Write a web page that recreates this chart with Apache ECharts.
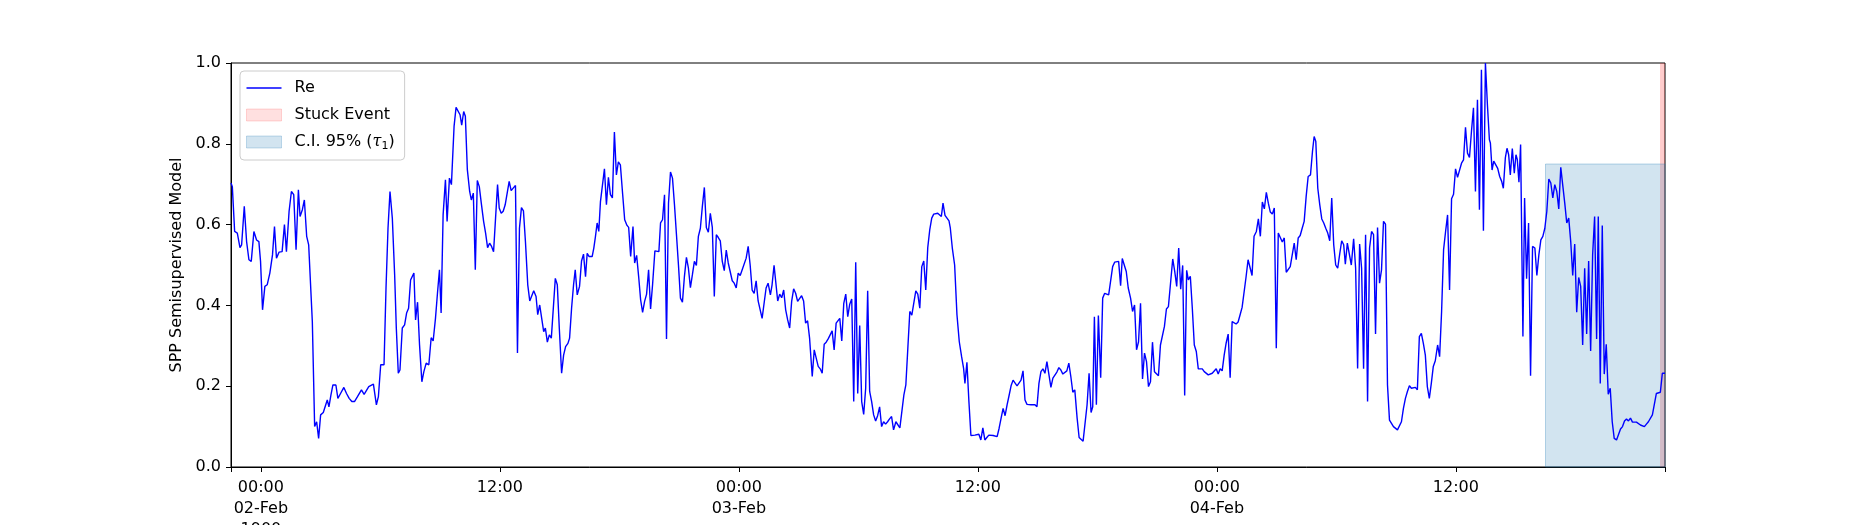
<!DOCTYPE html>
<html>
<head>
<meta charset="utf-8">
<script src="https://cdn.jsdelivr.net/npm/echarts@6.0.0/dist/echarts.min.js"></script>
<style>
html, body { margin: 0; padding: 0; background: #fff; }
#chart { width: 1850px; height: 525px; }
</style>
</head>
<body>
<div id="chart"></div>
<script>
// minutes from 02-Feb 00:00 in chunks of ~9 h
var t0 = [-90,-86,-79,-71,-63,-58,-50,-43,-36,-29,-21,-13,-6,-1,5,12,19,27,35,41,47,55,64,71,77,85,92,99,106,113,118,125,131,138,144,150,155,162,168,174,180,188,194,200,205,211,217,226,232,240,250,258,266,274,282,291,297,303,311,317,325,331,339,348,354,361,371,377,383,389,396,403,408,414,419,426,433,439,445];
var v0 = [0.703,0.694,0.583,0.579,0.543,0.55,0.645,0.558,0.513,0.509,0.583,0.562,0.558,0.509,0.389,0.447,0.451,0.48,0.525,0.595,0.517,0.532,0.533,0.6,0.533,0.633,0.682,0.674,0.538,0.686,0.62,0.637,0.661,0.571,0.55,0.55,0.36,0.10,0.112,0.071,0.129,0.135,0.137,0.166,0.149,0.178,0.203,0.203,0.17,0.182,0.197,0.182,0.17,0.162,0.162,0.174,0.17,0.191,0.18,0.182,0.199,0.195,0.205,0.154,0.174,0.253,0.253,0.443,0.591,0.682,0.616,0.476,0.344,0.232,0.24,0.344,0.352,0.381,0.393];

var t1 = [451,456,461,466,472,478,485,491,498,506,513,519,526,532,538,543,549,556,561,568,574,582,588,594,600,605,611,616,622,629,634,640,646,652,658,664,671,677,683,689,695,701,707,713,718,724,730,736,742,748,754,760,767,773,779,785,791,797,804,810,816,822,829,834,840,846,852,857,863,869,875,881,887,893,899,906,912,918,925,930,936,942,947,953,960,966,972,978,983,989];
var v1 = [0.463,0.467,0.48,0.364,0.408,0.302,0.211,0.236,0.257,0.253,0.32,0.312,0.368,0.43,0.488,0.381,0.624,0.711,0.608,0.715,0.699,0.843,0.89,0.888,0.872,0.846,0.88,0.868,0.736,0.682,0.661,0.678,0.488,0.709,0.694,0.653,0.608,0.579,0.543,0.554,0.546,0.533,0.616,0.699,0.641,0.628,0.633,0.649,0.678,0.707,0.684,0.682,0.697,0.282,0.591,0.642,0.634,0.558,0.451,0.411,0.414,0.436,0.422,0.377,0.401,0.368,0.335,0.344,0.309,0.327,0.319,0.393,0.467,0.451,0.344,0.232,0.277,0.298,0.306,0.319,0.393,0.451,0.488,0.426,0.447,0.51,0.527,0.471,0.529,0.521];

var t2 = [993,998,1003,1008,1013,1018,1023,1029,1035,1041,1047,1053,1059,1065,1071,1077,1083,1090,1096,1103,1108,1114,1121,1126,1132,1138,1144,1150,1156,1162,1168,1174,1180,1187,1193,1199,1204,1210,1216,1222,1228,1234,1240,1246,1252,1258,1264,1270,1276,1282,1288,1294,1300,1306,1312,1318,1324,1330,1336,1342,1348,1354,1360,1366,1372,1378,1384,1390,1396,1402,1408,1414,1420,1426,1432,1438,1444,1450,1456,1462,1468,1474,1480,1486,1492,1498,1504,1510,1516,1522,1528];
var v2 = [0.517,0.521,0.542,0.571,0.604,0.583,0.657,0.659,0.738,0.649,0.717,0.674,0.666,0.829,0.723,0.755,0.748,0.674,0.612,0.598,0.593,0.521,0.595,0.505,0.524,0.472,0.414,0.383,0.41,0.428,0.488,0.391,0.451,0.535,0.537,0.533,0.604,0.612,0.674,0.317,0.653,0.73,0.715,0.649,0.575,0.5,0.418,0.408,0.472,0.519,0.492,0.444,0.476,0.509,0.499,0.571,0.591,0.645,0.692,0.593,0.581,0.628,0.593,0.422,0.575,0.568,0.56,0.509,0.486,0.537,0.505,0.502,0.461,0.455,0.443,0.48,0.474,0.488,0.488,0.517,0.546,0.5,0.438,0.43,0.461,0.411,0.414,0.368,0.37,0.443,0.455];

var t3 = [1535,1540,1546,1552,1557,1563,1569,1575,1581,1587,1593,1599,1605,1611,1617,1623,1629,1635,1641,1647,1653,1661,1667,1673,1679,1685,1691,1697,1703,1709,1715,1721,1727,1733,1739,1744,1750,1756,1762,1768,1774,1780,1786,1792,1798,1804,1810,1816,1822,1828,1834,1840,1846,1852,1858,1864,1870,1876,1882,1888,1894,1900,1906,1913,1919,1925,1931,1937,1943,1949,1955,1961,1967,1973,1979,1985,1991,1997,2003,2009,2015,2021,2027,2033,2039,2045,2050,2055,2061,2067,2073];
var v3 = [0.426,0.451,0.499,0.496,0.411,0.428,0.419,0.438,0.389,0.364,0.344,0.41,0.441,0.43,0.41,0.41,0.424,0.411,0.356,0.362,0.319,0.224,0.29,0.294,0.249,0.243,0.232,0.304,0.309,0.317,0.32,0.337,0.29,0.356,0.36,0.368,0.312,0.405,0.428,0.372,0.403,0.416,0.162,0.507,0.182,0.35,0.162,0.13,0.195,0.436,0.187,0.162,0.129,0.114,0.127,0.149,0.1,0.112,0.106,0.112,0.119,0.125,0.092,0.112,0.114,0.097,0.1,0.178,0.203,0.294,0.385,0.376,0.375,0.436,0.428,0.393,0.496,0.51,0.438,0.543,0.587,0.616,0.626,0.628,0.628,0.631,0.62,0.653,0.623,0.62,0.609];

var t4 = [2077,2083,2090,2097,2104,2111,2117,2121,2127,2133,2139,2145,2151,2157,2163,2169,2175,2181,2187,2193,2199,2206,2212,2218,2224,2230,2236,2242,2248,2254,2260,2266,2272,2278,2284,2290,2296,2302,2308,2314,2320,2326,2332,2338,2344,2350,2356,2362,2368,2374,2380,2386,2392,2398,2404,2410,2416,2422,2428,2434,2440,2446,2452,2459,2465,2471,2477,2483,2489,2495,2501,2506,2511,2517,2523,2530,2536,2542,2548,2554,2560,2566,2572,2578,2584,2590,2595,2601,2607,2613];
var v4 = [0.591,0.542,0.5,0.377,0.31,0.273,0.244,0.207,0.259,0.162,0.078,0.078,0.079,0.078,0.081,0.067,0.097,0.067,0.073,0.079,0.079,0.078,0.075,0.075,0.096,0.121,0.145,0.127,0.154,0.177,0.201,0.215,0.213,0.201,0.203,0.215,0.238,0.166,0.155,0.154,0.154,0.154,0.154,0.149,0.207,0.236,0.243,0.232,0.261,0.259,0.197,0.22,0.224,0.235,0.246,0.24,0.23,0.228,0.238,0.257,0.224,0.185,0.191,0.121,0.073,0.069,0.064,0.061,0.154,0.232,0.135,0.149,0.372,0.154,0.375,0.221,0.418,0.43,0.433,0.426,0.428,0.496,0.507,0.509,0.509,0.449,0.516,0.519,0.484,0.443];

var t5 = [2620,2626,2632,2638,2644,2650,2656,2662,2668,2674,2680,2686,2692,2698,2704,2710,2716,2722,2728,2734,2740,2747,2753,2759,2765,2771,2777,2783,2789,2794,2800,2806,2812,2818,2824,2830,2836,2842,2848,2854,2860,2866,2872,2878,2884,2890,2896,2902,2908,2914,2920,2926,2932,2938,2944,2950,2956,2962,2968,2974,2980,2986,2992,2999,3005,3011,3017,3023,3029,3035,3041,3047,3053,3059,3065,3071,3077,3083,3089,3095,3101,3107,3113,3119,3125,3131,3137,3143,3149,3155];
var v5 = [0.418,0.385,0.401,0.29,0.31,0.405,0.218,0.282,0.261,0.199,0.211,0.309,0.236,0.238,0.226,0.302,0.302,0.348,0.391,0.397,0.451,0.515,0.484,0.447,0.542,0.44,0.499,0.177,0.487,0.463,0.472,0.393,0.302,0.286,0.243,0.243,0.243,0.236,0.232,0.228,0.23,0.232,0.236,0.243,0.23,0.243,0.238,0.277,0.307,0.329,0.221,0.36,0.36,0.354,0.359,0.377,0.395,0.397,0.471,0.513,0.509,0.474,0.571,0.583,0.614,0.571,0.656,0.639,0.68,0.653,0.631,0.626,0.641,0.294,0.579,0.575,0.557,0.567,0.482,0.48,0.496,0.496,0.554,0.513,0.567,0.573,0.591,0.608,0.67,0.719];

var t6 = [3162,3168,3173,3178,3184,3190,3196,3202,3208,3214,3220,3226,3232,3238,3244,3250,3256,3262,3267,3273,3279,3285,3292,3298,3304,3310,3316,3322,3328,3334,3340,3346,3352,3358,3364,3370,3376,3382,3388,3394,3400,3406,3412,3418,3424,3430,3436,3442,3448,3454,3460,3466,3472,3478,3484,3490,3496,3502,3508,3514,3520,3526,3532,3538,3545,3551,3557,3563,3569,3575,3581,3587,3593,3599,3605,3611,3617,3623,3629,3635,3641,3647,3653,3659,3665,3671,3677,3683,3689,3695,3701];
var v6 = [0.723,0.781,0.818,0.806,0.69,0.649,0.614,0.604,0.591,0.579,0.56,0.666,0.55,0.5,0.492,0.527,0.56,0.55,0.502,0.554,0.557,0.5,0.565,0.492,0.244,0.552,0.492,0.243,0.575,0.162,0.542,0.583,0.575,0.329,0.593,0.455,0.488,0.608,0.601,0.203,0.116,0.108,0.1,0.1,0.092,0.096,0.112,0.145,0.17,0.187,0.201,0.195,0.199,0.197,0.191,0.323,0.331,0.306,0.277,0.199,0.17,0.207,0.249,0.263,0.302,0.273,0.385,0.538,0.583,0.624,0.438,0.664,0.675,0.738,0.717,0.719,0.752,0.76,0.841,0.777,0.766,0.831,0.889,0.682,0.909,0.637,0.983,0.585,1.0,0.897,0.81];

var t7 = [3704,3709,3714,3720,3726,3732,3738,3743,3749,3754,3759,3764,3770,3776,3781,3785,3790,3795,3802,3807,3813,3819,3825,3831,3838,3844,3850,3856,3862,3868,3874,3880,3886,3892,3898,3904,3910,3916,3922,3928,3934,3940,3946,3952,3958,3964,3970,3976,3982,3988,3994,4000,4006,4012,4018,4024,4029,4035,4041,4047,4053,4059,4065,4071,4077,4084,4090,4096,4102,4108,4114,4120,4126,4132,4138,4144,4150,4156,4162,4168,4174,4180,4186,4192,4198,4204,4210,4216,4222,4230];
var v7 = [0.802,0.735,0.757,0.754,0.739,0.719,0.707,0.69,0.765,0.789,0.773,0.723,0.788,0.727,0.773,0.761,0.705,0.798,0.323,0.666,0.466,0.604,0.226,0.546,0.542,0.474,0.525,0.562,0.571,0.591,0.633,0.713,0.703,0.666,0.699,0.682,0.639,0.742,0.697,0.653,0.604,0.616,0.558,0.474,0.552,0.383,0.469,0.447,0.302,0.492,0.329,0.51,0.287,0.525,0.62,0.317,0.62,0.207,0.598,0.23,0.304,0.18,0.195,0.112,0.071,0.067,0.071,0.094,0.1,0.114,0.119,0.114,0.121,0.111,0.112,0.111,0.108,0.104,0.1,0.1,0.106,0.112,0.114,0.129,0.129,0.182,0.182,0.185,0.232,0.232];

// x axis: minutes from 02-Feb 00:00 (01-Feb 22:30 .. 04-Feb 22:30)
var xMin = -90, xMax = 4230;
var tickMinutes = [0, 720, 1440, 2160, 2880, 3600];
var tickLabels = ['00:00\n02-Feb\n1900', '12:00', '00:00\n03-Feb', '12:00', '00:00\n04-Feb', '12:00'];

// shaded spans
var stuckSpan = [4215, 4230];
var ciSpan = [3870, 4230];
var ciTop = 0.75;

var seriesName = 'Re';
var stuckName = 'Stuck Event';
var ciName = 'C.I. 95% (τ1)';

var times = [].concat(t0, t1, t2, t3, t4, t5, t6, t7);
var vals = [].concat(v0, v1, v2, v3, v4, v5, v6, v7);
var data = [];
for (var i = 0; i < Math.min(times.length, vals.length); i++) {
    data.push([times[i], vals[i]]);
}

var chart = echarts.init(document.getElementById('chart'));
var option = {
    animation: false,
    backgroundColor: '#fff',
    textStyle: { fontFamily: 'DejaVu Sans', color: '#000' },
    grid: {
        left: 231, right: 185, top: 63, bottom: 58,
        show: true, borderColor: '#000', borderWidth: 1,
        containLabel: false, outerBoundsMode: 'none'
    },
    legend: {
        orient: 'vertical',
        left: 240, top: 71,
        padding: [9, 10, 8, 6],
        itemGap: 11,
        itemWidth: 35,
        itemHeight: 12,
        backgroundColor: 'rgba(255,255,255,0.8)',
        borderColor: '#cccccc',
        borderWidth: 1,
        borderRadius: 4,
        data: [
            { name: seriesName, icon: 'path://M0,0H35V1.4H0Z', itemStyle: { color: '#0000ff', borderWidth: 0 } },
            { name: stuckName, icon: 'rect', itemStyle: { color: 'rgba(255,0,0,0.12)', borderColor: 'rgba(255,0,0,0.15)', borderWidth: 1 } },
            { name: ciName, icon: 'rect', itemStyle: { color: 'rgba(31,119,180,0.2)', borderColor: 'rgba(31,119,180,0.25)', borderWidth: 1 } }
        ],
        formatter: function (name) {
            if (name === ciName) return '{n|C.I. 95% (}{t|τ}{s|1}{n|)}';
            return '{n|' + name + '}';
        },
        textStyle: {
            fontSize: 16,
            color: '#000',
            padding: [0, 0, 0, 8],
            rich: {
                n: { fontSize: 16, fontFamily: 'DejaVu Sans', color: '#000' },
                t: { fontSize: 16, fontFamily: 'DejaVu Serif', fontStyle: 'italic', color: '#000' },
                s: { fontSize: 11, fontFamily: 'DejaVu Sans', color: '#000', padding: [9, 0, 0, 0] }
            }
        }
    },
    xAxis: {
        type: 'value',
        min: xMin,
        max: xMax,
        splitLine: { show: false },
        axisLine: { show: true, onZero: false, lineStyle: { color: '#000', width: 1 } },
        axisTick: {
            show: true, length: 5, inside: false,
            lineStyle: { color: '#000', width: 1 },
            customValues: [xMin].concat(tickMinutes, [xMax])
        },
        axisLabel: {
            customValues: tickMinutes,
            fontSize: 16,
            lineHeight: 21,
            margin: 10,
            color: '#000',
            fontFamily: 'DejaVu Sans',
            formatter: function (v) {
                var k = tickMinutes.indexOf(v);
                return k >= 0 ? tickLabels[k] : '';
            }
        }
    },
    yAxis: {
        type: 'value',
        min: 0,
        max: 1,
        interval: 0.2,
        name: 'SPP Semisupervised Model',
        nameLocation: 'middle',
        nameGap: 39,
        nameTextStyle: { fontSize: 16, color: '#000', fontFamily: 'DejaVu Sans' },
        splitLine: { show: false },
        axisLine: { show: true, onZero: false, lineStyle: { color: '#000', width: 1 } },
        axisTick: { show: true, length: 5, lineStyle: { color: '#000', width: 1 } },
        axisLabel: {
            fontSize: 16,
            margin: 10,
            color: '#000',
            fontFamily: 'DejaVu Sans',
            formatter: function (v) { return v.toFixed(1); }
        }
    },
    series: [
        {
            name: stuckName,
            type: 'line',
            data: [],
            z: 1,
            itemStyle: { color: 'rgba(255,0,0,0.2)' },
            lineStyle: { color: 'rgba(255,0,0,0.2)' },
            markArea: {
                silent: true,
                itemStyle: { color: 'rgba(255,0,0,0.2)' },
                data: [[{ xAxis: stuckSpan[0] }, { xAxis: stuckSpan[1] }]]
            }
        },
        {
            name: ciName,
            type: 'line',
            data: [],
            z: 1,
            itemStyle: { color: 'rgba(31,119,180,0.2)' },
            lineStyle: { color: 'rgba(31,119,180,0.2)' },
            markArea: {
                silent: true,
                itemStyle: { color: 'rgba(31,119,180,0.2)', borderColor: 'rgba(31,119,180,0.3)', borderWidth: 1 },
                data: [[{ xAxis: ciSpan[0], yAxis: 0 }, { xAxis: ciSpan[1], yAxis: ciTop }]]
            }
        },
        {
            name: seriesName,
            type: 'line',
            data: data,
            z: 3,
            symbol: 'none',
            showSymbol: false,
            color: '#0000ff',
            lineStyle: { color: '#0000ff', width: 1.4 }
        }
    ]
};
chart.setOption(option);
</script>
</body>
</html>
